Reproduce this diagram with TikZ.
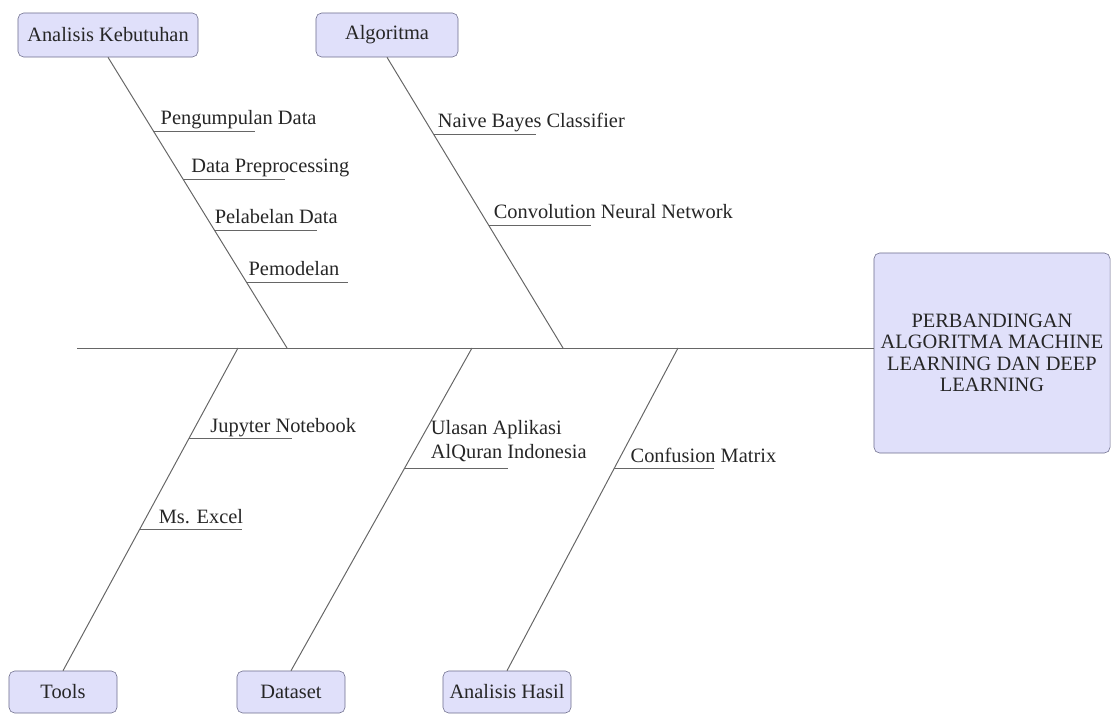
\documentclass[tikz,border=0pt]{standalone}
\usepackage{fontspec}
\setmainfont{Liberation Serif}
\usepackage{tikz}
\usetikzlibrary{positioning, calc}
\definecolor{boxfill}{RGB}{224,224,250}
\definecolor{boxline}{RGB}{110,110,140}

\begin{document}
\begin{tikzpicture}[x=0.025cm, y=-0.025cm, font=\fontsize{14.5}{17}\selectfont]
  \tikzstyle{category}=[rounded corners=4pt, draw=boxline, fill=boxfill, minimum height=1.1cm, inner sep=2pt, text=black!85]
  \tikzstyle{bone}=[draw=black!60, line width=0.7pt]
  \tikzstyle{item}=[anchor=base west, inner sep=0pt, text=black!85]

  \useasboundingbox (0,0) rectangle (1112,714);

  % effect box (head)
  \node (effect) at (992,353) [category, minimum width=5.9cm, minimum height=5cm, align=center,
    font=\fontsize{14.5}{15.3}\selectfont] {PERBANDINGAN\\ALGORITMA MACHINE\\LEARNING DAN DEEP\\LEARNING};

  % spine
  \coordinate (tail) at (77,348);
  \draw[bone] (tail) -- (tail -| effect.west);

  % categories
  \node (kebutuhan) at (108,35) [category, minimum width=4.5cm] {Analisis Kebutuhan};
  \node (algoritma) at (387,35) [category, minimum width=3.55cm] {Algoritma};
  \node (tools) at (63,692) [category, minimum width=2.7cm, minimum height=1.05cm] {Tools};
  \node (dataset) at (291,692) [category, minimum width=2.7cm, minimum height=1.05cm] {Dataset};
  \node (hasil) at (507,692) [category, minimum width=3.2cm, minimum height=1.05cm] {Analisis Hasil};

  % joints on the spine
  \coordinate (j1) at (287,348);
  \coordinate (j2) at (563,348);
  \coordinate (j3) at (238,348);
  \coordinate (j4) at (472,348);
  \coordinate (j5) at (678,348);

  % main bones
  \draw[bone] (kebutuhan.south) -- (j1);
  \draw[bone] (algoritma.south) -- (j2);
  \draw[bone] (j3) -- (tools.north);
  \draw[bone] (j4) -- (dataset.north);
  \draw[bone] (j5) -- (hasil.north);

  % sub causes
  \foreach \t/\dx/\txt [count=\i] in {0.254/7/Pengumpulan Data, 0.419/8/Data Preprocessing, 0.595/0/Pelabelan Data, 0.773/2/Pemodelan} {
    \draw[bone] ($(kebutuhan.south)!\t!(j1)$) coordinate (kb\i) -- ++(102,0);
    \node (kbtext\i) at ($(kb\i)+(\dx,-7)$) [item] {\txt};
  }
  \foreach \t/\dx/\txt [count=\i] in {0.265/4/Naive Bayes Classifier, 0.577/5/Convolution Neural Network} {
    \draw[bone] ($(algoritma.south)!\t!(j2)$) coordinate (al\i) -- ++(102,0);
    \node (altext\i) at ($(al\i)+(\dx,-7)$) [item] {\txt};
  }
  \foreach \t/\dx/\txt [count=\i] in {0.279/21/Jupyter Notebook, 0.563/19/Ms. Excel} {
    \draw[bone] ($(j3)!\t!(tools.north)$) coordinate (tl\i) -- ++(103,0);
    \node (tltext\i) at ($(tl\i)+(\dx,-6)$) [item] {\txt};
  }
  \draw[bone] ($(j4)!0.372!(dataset.north)$) coordinate (ds1) -- ++(103,0);
  \node (dstext1) at ($(ds1)+(26,-6)$) [anchor=south west, inner sep=0pt, text=black!85, align=left,
    font=\fontsize{14.5}{17}\selectfont] {Ulasan Aplikasi\\AlQuran Indonesia};
  \draw[bone] ($(j5)!0.372!(hasil.north)$) coordinate (hs1) -- ++(100,0);
  \node (hstext1) at ($(hs1)+(16,-6)$) [item] {Confusion Matrix};
\end{tikzpicture}
\end{document}
